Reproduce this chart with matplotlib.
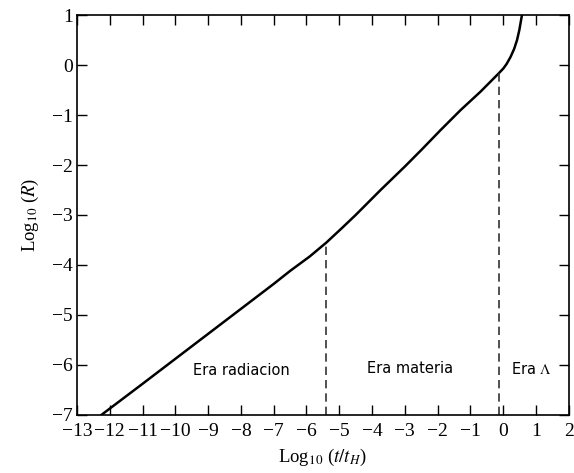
import numpy as np
from matplotlib import pyplot as plt

plt.rcParams["font.family"] = "Liberation Serif"
plt.rcParams["mathtext.fontset"] = "stix"

# curve: log10(t/tH) vs log10(R)
log_t = [-12.25, -11.0, -10.0, -9.0, -8.0, -7.0, -6.5, -5.9, -5.39, -4.9, -4.5,
         -3.74, -3.0, -2.5, -1.91, -1.30, -0.69, -0.13, 0.0, 0.10, 0.22, 0.33,
         0.42, 0.49, 0.57]
log_r = [-7.0, -6.38, -5.88, -5.38, -4.88, -4.38, -4.12, -3.83, -3.55, -3.25, -3.0,
         -2.5, -2.03, -1.70, -1.30, -0.9, -0.53, -0.16, -0.07, 0.02, 0.16, 0.32,
         0.5, 0.70, 1.0]

# era boundaries (x, top of dashed line)
eq_t, eq_r = -5.39, -3.55
lam_t, lam_r = -0.13, -0.16

era_labels = ["Era radiacion", "Era materia", "Era $\\Lambda$"]
era_x = [-8.0, -2.85, 0.85]
era_y = [-6.12, -6.08, -6.08]

fig = plt.figure(figsize=(5.74, 4.73), dpi=100)
ax = fig.add_axes([0.134, 0.123, 0.857, 0.845])

ax.plot(log_t, log_r, color="black", lw=1.8, solid_joinstyle="round")
ax.plot([eq_t, eq_t], [-7, eq_r], color="#333333", lw=1.2, dashes=(5, 3))
ax.plot([lam_t, lam_t], [-7, lam_r], color="#333333", lw=1.2, dashes=(5, 3))

for lbl, x, y in zip(era_labels, era_x, era_y):
    ax.text(x, y, lbl, ha="center", va="center", fontsize=10.5,
            family=["DejaVu Sans"])

ax.set_xlim(-13, 2)
ax.set_ylim(-7, 1)
ax.set_xticks(np.arange(-13, 3))
ax.set_yticks(np.arange(-7, 2))
ax.tick_params(direction="in", top=True, right=True, length=7, width=1,
               labelsize=14, pad=3)
ax.tick_params(axis="x", pad=6)
for s in ax.spines.values():
    s.set_linewidth(1.2)

ax.set_xlabel("Log$_{10}$ ($t/t_H$)", fontsize=13.5, labelpad=5)
ax.set_ylabel("Log$_{10}$ ($R$)", fontsize=13.5, labelpad=8)

fig.savefig("out.png", dpi=100)
